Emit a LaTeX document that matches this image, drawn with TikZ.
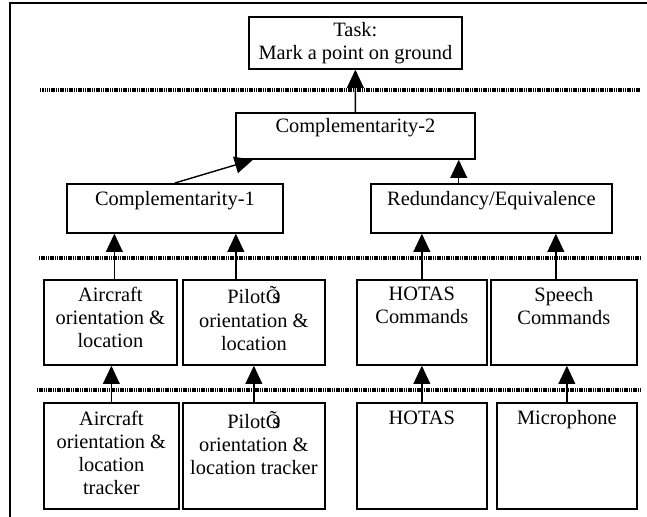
\documentclass[tikz,border=0pt]{standalone}
\usepackage{fontspec}
\setmainfont{Liberation Serif}
\usetikzlibrary{arrows.meta}
\newcommand{\boxlabel}[4][4pt]{\parbox[c][#3][t]{#2}{\centering\vspace*{#1}#4\par}}

\begin{document}
\begin{tikzpicture}[x=0.025cm, y=-0.025cm, >={Triangle[length=13pt,width=12pt]}]
\tikzstyle{block} = [draw, line width=1.2pt, rectangle, inner sep=0pt, anchor=north west]
\tikzstyle{link} = [->, line width=1pt]
\tikzstyle{level} = [line width=2.2pt, dash pattern=on 1pt off 0.6pt]
\tikzstyle{every node} = [font=\fontsize{14.5}{16.4}\selectfont]
    \useasboundingbox (0,0) rectangle (647,516);
    % outer frame, only its left and top sides lie on the page
    \draw [line width=1.3pt] (10,520) |- (650,3);

    % the dotted level separators
    \coordinate (lvla) at (40,90);   \coordinate (lvlb) at (640,90);
    \coordinate (lvlc) at (39,258);  \coordinate (lvld) at (640,258);
    \coordinate (lvle) at (37,390);  \coordinate (lvlf) at (640,390);
    \draw [level] (lvla) -- (lvlb);
    \draw [level] (lvlc) -- (lvld);
    \draw [level] (lvle) -- (lvlf);

    % top of the tree
    \node [block, minimum width=5.325cm, minimum height=1.3cm, align=center]
        (task) at (248,16) {Task:\\Mark a point on ground};
    \node [block] (comp2) at (235,112) {\boxlabel{5.975cm}{1.15cm}{Complementarity-2}};
    \node [block] (comp1) at (66,183) {\boxlabel[5pt]{5.4cm}{1.225cm}{Complementarity-1}};
    \node [block] (redund) at (370,183) {\boxlabel[5pt]{6.025cm}{1.225cm}{Redundancy/Equivalence}};

    % middle row
    \node [block] (acft) at (43,279) {\boxlabel[5pt]{3.325cm}{2.125cm}{Aircraft\\orientation \&\\location}};
    \node [block] (pilot) at (182,279) {\boxlabel[5pt]{3.55cm}{2.125cm}{PilotÕ\kern-0.4em s\\orientation \&\\location}};
    \node [block] (hotascmd) at (356,279) {\boxlabel[5pt]{3.25cm}{2.125cm}{HOTAS\\Commands}};
    \node [block] (speech) at (490,279) {\boxlabel[5pt]{3.65cm}{2.125cm}{Speech\\Commands}};

    % bottom row
    \node [block] (acftrk) at (43,402) {\boxlabel[6pt]{3.375cm}{2.65cm}{Aircraft\\orientation \&\\location\\tracker}};
    \node [block] (pilottrk) at (182,402) {\boxlabel[6pt]{3.55cm}{2.65cm}{PilotÕ\kern-0.4em s\\orientation \&\\location tracker}};
    \node [block] (hotas) at (356,402) {\boxlabel[6pt]{3.25cm}{2.65cm}{HOTAS}};
    \node [block] (micro) at (496,402) {\boxlabel[5pt]{3.5cm}{2.65cm}{Microphone}};

    % connections, drawn over the separators
    \draw [link] (acftrk.north) -- (acftrk.north |- acft.south);
    \draw [link] (pilottrk.north) -- (pilottrk.north |- pilot.south);
    \draw [link] (hotas.north) -- (hotas.north |- hotascmd.south);
    \draw [link] (micro.north) -- (micro.north |- speech.south);
    \draw [link] ([xshift=0.1cm]acft.north) -- ([xshift=0.1cm]acft.north |- comp1.south);
    \draw [link] ([xshift=-0.45cm]pilot.north) -- ([xshift=-0.45cm]pilot.north |- comp1.south);
    \draw [link] (hotascmd.north) -- (hotascmd.north |- redund.south);
    \draw [link] ([xshift=-0.2cm]speech.north) -- ([xshift=-0.2cm]speech.north |- redund.south);
    \draw [link] (comp1.north) -- ([xshift=0.45cm]comp2.south west);
    \draw [link] ([xshift=-0.425cm]comp2.south east |- redund.north) -- ([xshift=-0.425cm]comp2.south east);
    \draw [link] (comp2.north) -- (task.south);
\end{tikzpicture}
\end{document}
